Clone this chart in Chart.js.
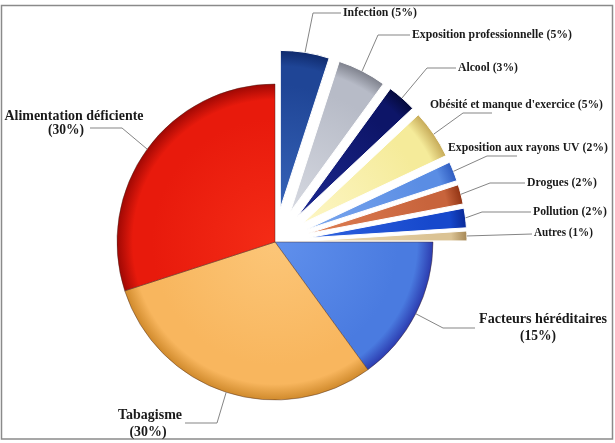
<!DOCTYPE html>
<html lang="fr">
<head>
<meta charset="utf-8">
<title>Facteurs de risque</title>
<script src="https://cdn.jsdelivr.net/npm/chart.js@4.4.1/dist/chart.umd.min.js"></script>
<style>
  html, body { margin: 0; padding: 0; background: #fff; }
  #cadre { width: 615px; height: 443px; }
</style>
</head>
<body>
<div id="cadre"><canvas id="camembert" width="615" height="443"></canvas></div>
<script>
// ===== DONNÉES =====
const categories = [
    'Infection', 'Exposition professionnelle', 'Alcool', "Obésité et manque d'exercice",
    'Exposition aux rayons UV', 'Drogues', 'Pollution', 'Autres',
    'Facteurs héréditaires', 'Tabagisme', 'Alimentation déficiente'
];
const pourcentages = [5, 5, 3, 5, 2, 2, 2, 1, 15, 30, 30];

// ===== STYLE =====
const NB_ECLATES = 8;      // les petites parts sont détachées
const ECART = 34;          // distance de détachement (px)
const RAYON = 158;

// [clair, base, foncé] pour chaque part
const teintes = [
    ['#3663b8', '#1f4596', '#0f2a6c'],
    ['#d5d8e0', '#b7bbc7', '#7e818c'],
    ['#1c2890', '#0d1568', '#050a3c'],
    ['#fdf6c4', '#f5eb9a', '#c6aa58'],
    ['#7aa7ee', '#5a8de4', '#2f5cc0'],
    ['#de7e52', '#c8643c', '#923414'],
    ['#2f63e0', '#1648cc', '#0a2a98'],
    ['#eedbb0', '#dbc394', '#a68856'],
    ['#6090ec', '#4a7be0', '#2c3cb0'],
    ['#fcc678', '#f8b65e', '#d08a2c'],
    ['#f42c16', '#e81a0c', '#a00804']
];

// étiquettes : trait de rappel (après le point sur l'arc) + textes [x, y, largeur, alignement]
const etiquettes = [
    { trait: [[313, 13], [341, 13]], textes: [[343, 13, 74, 'left']] },
    { trait: [[378, 35], [410, 35]], textes: [[412, 35, 160, 'left']] },
    { trait: [[427, 68], [456, 68]], textes: [[458, 68, 60, 'left']] },
    { trait: [[463, 113], [492, 113]], textes: [[430, 105, 173, 'left']] },
    { trait: [[487, 156], [517, 156]], textes: [[448, 148, 160, 'left']] },
    { trait: [[490, 183], [525, 183]], textes: [[527, 183, 70, 'left']] },
    { trait: [[482, 212], [531, 212]], textes: [[533, 212, 74, 'left']] },
    { trait: [[532, 234]], textes: [[534, 233, 59, 'left']] },
    { trait: [[443, 328], [475, 328]], textes: [[543, 319, 128, 'center'], [538, 336, 36, 'center']] },
    { trait: [[217, 423], [185, 423]], textes: [[150, 415, 64, 'center'], [148, 432, 37, 'center']] },
    { trait: [[122, 128], [90, 128]], textes: [[74, 116, 139, 'center'], [66, 130, 36, 'center']] }
];

// ===== PLUGINS =====
const cadrePlugin = {
    id: 'cadre',
    beforeDraw(chart) {
        const ctx = chart.ctx;
        ctx.save();
        ctx.fillStyle = '#fff';
        ctx.fillRect(0, 0, chart.width, chart.height);
        ctx.strokeStyle = '#8a8a8a';
        ctx.lineWidth = 1.5;
        ctx.strokeRect(1.5, 5.5, 611, 433.5);
        ctx.restore();
    }
};

// détache les petites parts et applique un dégradé radial
const eclatementPlugin = {
    id: 'eclatement',
    afterDatasetUpdate(chart, args) {
        const ctx = chart.ctx;
        args.meta.data.forEach(function (arc, i) {
            const milieu = (arc.startAngle + arc.endAngle) / 2;
            if (i < NB_ECLATES) {
                arc.x += Math.cos(milieu) * ECART;
                arc.y += Math.sin(milieu) * ECART;
            }
            const t = teintes[i];
            const g = ctx.createRadialGradient(arc.x, arc.y, 0, arc.x, arc.y, arc.outerRadius);
            g.addColorStop(0, t[0]);
            g.addColorStop(0.78, t[1]);
            g.addColorStop(0.9, t[1]);
            g.addColorStop(1, t[2]);
            arc.options = Object.assign({}, arc.options, { backgroundColor: g });
        });
    }
};

const etiquettesPlugin = {
    id: 'etiquettes',
    afterDraw(chart) {
        const ctx = chart.ctx;
        const arcs = chart.getDatasetMeta(0).data;
        ctx.save();
        etiquettes.forEach(function (et, i) {
            const arc = arcs[i];
            const milieu = (arc.startAngle + arc.endAngle) / 2;
            const x0 = arc.x + Math.cos(milieu) * arc.outerRadius;
            const y0 = arc.y + Math.sin(milieu) * arc.outerRadius;

            ctx.strokeStyle = '#858585';
            ctx.lineWidth = 1;
            ctx.beginPath();
            ctx.moveTo(x0, y0);
            et.trait.forEach(function (p) { ctx.lineTo(p[0], p[1]); });
            ctx.stroke();

            const grand = et.textes.length > 1;
            const lignes = grand
                ? [categories[i], '(' + pourcentages[i] + '%)']
                : [categories[i] + ' (' + pourcentages[i] + '%)'];
            ctx.font = grand ? 'bold 14px "Liberation Serif"' : 'bold 12px "Liberation Serif"';
            ctx.fillStyle = '#1a1a1a';
            ctx.textBaseline = 'middle';
            lignes.forEach(function (txt, k) {
                const [x, y, larg, align] = et.textes[k];
                const sx = larg / ctx.measureText(txt).width;
                ctx.save();
                ctx.translate(x, y);
                ctx.scale(sx, 1);
                ctx.textAlign = align;
                ctx.fillText(txt, 0, 0);
                ctx.restore();
            });
        });
        ctx.restore();
    }
};

// ===== GRAPHIQUE =====
const bordures = pourcentages.map(function (v, i) { return i < NB_ECLATES ? '#ffffff' : 'rgba(70,40,30,0.55)'; });
const largeursBordure = pourcentages.map(function (v, i) { return i < NB_ECLATES ? 1 : 0.8; });

new Chart(document.getElementById('camembert'), {
    type: 'pie',
    data: {
        labels: categories,
        datasets: [{
            data: pourcentages,
            backgroundColor: teintes.map(function (t) { return t[1]; }),
            borderColor: bordures,
            borderWidth: largeursBordure,
            radius: RAYON,
            clip: false
        }]
    },
    options: {
        responsive: false,
        animation: false,
        events: [],
        layout: { padding: { left: 0, right: 65, top: 41, bottom: 0 } },
        plugins: {
            legend: { display: false },
            tooltip: { enabled: false }
        }
    },
    plugins: [cadrePlugin, eclatementPlugin, etiquettesPlugin]
});
</script>
</body>
</html>
